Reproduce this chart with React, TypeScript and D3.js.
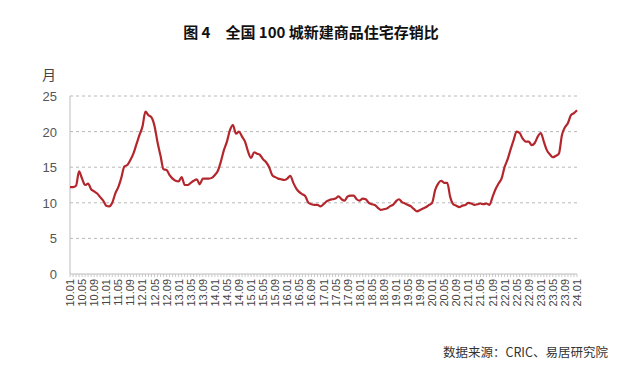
import React, { useEffect } from "react";
import * as d3 from "d3";

const title = "图 4　全国 100 城新建商品住宅存销比";
const source = "数据来源：CRIC、易居研究院";
const yLabel = "月";
const yTicks = [0, 5, 10, 15, 20, 25];
const startYear = 2010;

// monthly values 2010.01 .. 2024.01
const values2010 = [12.2, 12.2, 12.4, 14.4, 13.4, 12.5, 12.7, 11.9, 11.6, 11.3, 10.8, 10.3];
const values2011 = [9.6, 9.5, 10.0, 11.3, 12.2, 13.5, 15.1, 15.3, 16.0, 16.9, 18.2, 19.5];
const values2012 = [20.7, 22.8, 22.3, 22.0, 20.8, 18.5, 16.6, 14.7, 14.6, 13.9, 13.4, 13.1];
const values2013 = [13.0, 13.6, 12.5, 12.5, 12.8, 13.1, 13.3, 12.6, 13.4, 13.4, 13.4, 13.5];
const values2014 = [13.9, 14.5, 15.8, 17.4, 18.6, 20.2, 20.9, 19.7, 20.0, 19.3, 18.6, 17.2];
const values2015 = [16.3, 17.1, 16.9, 16.7, 16.1, 15.7, 15.0, 13.9, 13.6, 13.4, 13.3, 13.2];
const values2016 = [13.4, 13.8, 12.8, 12.0, 11.5, 11.2, 10.9, 10.0, 9.8, 9.7, 9.7, 9.5];
const values2017 = [9.8, 10.2, 10.4, 10.5, 10.6, 10.9, 10.5, 10.3, 10.9, 11.0, 11.0, 10.5];
const values2018 = [10.3, 10.6, 10.5, 10.0, 9.8, 9.7, 9.3, 9.0, 9.1, 9.2, 9.5, 9.7];
const values2019 = [10.2, 10.5, 10.1, 9.9, 9.7, 9.5, 9.1, 8.8, 9.0, 9.2, 9.4, 9.7];
const values2020 = [10.0, 11.8, 12.7, 13.1, 12.8, 12.8, 10.8, 9.8, 9.6, 9.4, 9.6, 9.7];
const values2021 = [10.0, 9.9, 9.7, 9.8, 9.9, 9.8, 9.9, 9.7, 10.8, 11.9, 12.7, 13.4];
const values2022 = [15.0, 16.1, 17.5, 18.8, 20.0, 19.8, 19.0, 18.6, 18.6, 18.1, 18.4, 19.3];
const values2023 = [19.8, 18.6, 17.4, 16.8, 16.4, 16.6, 16.9, 19.5, 20.6, 21.2, 22.3, 22.6];
const values2024 = [23.0];

const series = [
  ...values2010, ...values2011, ...values2012, ...values2013, ...values2014,
  ...values2015, ...values2016, ...values2017, ...values2018, ...values2019,
  ...values2020, ...values2021, ...values2022, ...values2023, ...values2024,
];

const labelOf = (i: number) => {
  const y = startYear + Math.floor(i / 12);
  const m = (i % 12) + 1;
  return `${String(y).slice(2)}.${String(m).padStart(2, "0")}`;
};

export default function App() {
  useEffect(() => {
    document.body.style.margin = "0";
  }, []);

  const W = 626, H = 370;
  const left = 70, right = 577, top = 96, bottom = 274;
  const x = d3.scaleLinear().domain([0, series.length - 1]).range([left, right]);
  const y = d3.scaleLinear().domain([0, 25]).range([bottom, top]);
  const line = d3.line<number>().x((_, i) => x(i)).y((d) => y(d)).curve(d3.curveMonotoneX);
  const idx = d3.range(series.length);
  const labelIdx = idx.filter((i) => i % 4 === 0);

  return (
    <svg width={W} height={H} style={{ position: "absolute", left: 0, top: 0, background: "#fff" }}
      fontFamily="'Liberation Sans', Arial, sans-serif">
      <rect width={W} height={H} fill="#fff" />
      <text x={311} y={38} textAnchor="middle" fontSize={15} fontWeight="bold"
        fontFamily="'Noto Sans CJK SC', sans-serif" fill="#111">{title}</text>
      <text x={49} y={80} textAnchor="middle" fontSize={14} fill="#444"
        fontFamily="'Noto Sans CJK SC', sans-serif">{yLabel}</text>
      {yTicks.filter((t) => t > 0).map((t) => (
        <line key={t} x1={left} x2={right} y1={y(t)} y2={y(t)} stroke="#b8b8b8"
          strokeWidth={1} strokeDasharray="3,3" />
      ))}
      {yTicks.map((t) => (
        <text key={"l" + t} x={57} y={y(t) + 5} textAnchor="end" fontSize={13} fill="#555">{t}</text>
      ))}
      <line x1={left} x2={left} y1={top} y2={bottom} stroke="#bdbdbd" strokeWidth={1} />
      <line x1={left} x2={right} y1={bottom} y2={bottom} stroke="#bdbdbd" strokeWidth={1} />
      {idx.map((i) => (
        <line key={"t" + i} x1={x(i)} x2={x(i)} y1={bottom} y2={bottom + 3} stroke="#bdbdbd" strokeWidth={0.8} />
      ))}
      {labelIdx.map((i) => (
        <text key={"x" + i} transform={`translate(${x(i) + 4},${bottom + 5}) rotate(-90)`}
          textAnchor="end" fontSize={11} fill="#444">{labelOf(i)}</text>
      ))}
      <path d={line(series) || ""} fill="none" stroke="#b3262c" strokeWidth={2.2} strokeLinejoin="round" />
      <text x={608} y={357} textAnchor="end" fontSize={12.5} fill="#333"
        fontFamily="'Noto Sans CJK SC', sans-serif">{source}</text>
    </svg>
  );
}
